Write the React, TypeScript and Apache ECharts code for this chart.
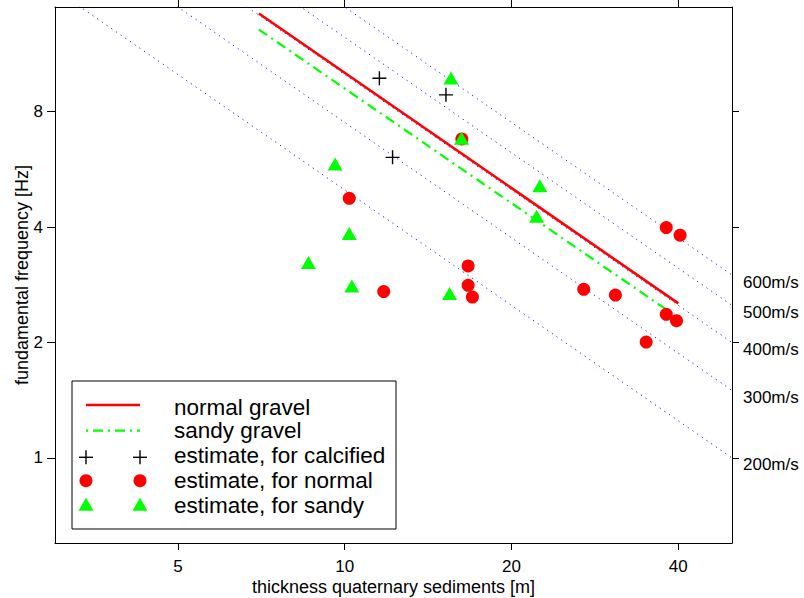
import React, { useEffect, useRef } from 'react';
import * as echarts from 'echarts';

// ---------- data ----------
const xTicks = [5, 10, 20, 40];
const yTicks = [1, 2, 4, 8];
const xRange = [3, 50];
const yRange = [0.6, 15];

// reference shear-wave velocities (m/s) for quarter-wavelength lines f = Vs / (4 h)
const velocities = [200, 300, 400, 500, 600];

// fitted relations [thickness m, frequency Hz]
const normalGravelH = [7, 40];
const normalGravelF = [14.43, 2.53];
const sandyGravelH = [7, 40];
const sandyGravelF = [13.1, 2.32];

// estimates
const calcifiedH = [11.55, 15.23, 12.2];
const calcifiedF = [9.78, 8.85, 6.08];
const normalH = [16.27, 10.19, 16.7, 11.76, 16.7, 17.0, 27.0, 30.8, 38.05, 40.3, 38.05, 39.7, 35.0];
const normalF = [6.79, 4.755, 3.167, 2.715, 2.82, 2.628, 2.753, 2.66, 3.99, 3.81, 2.369, 2.28, 2.005];
const sandyH = [15.55, 16.25, 9.61, 22.5, 22.2, 10.19, 8.6, 10.3, 15.46];
const sandyF = [9.8, 6.82, 5.84, 5.13, 4.27, 3.85, 3.233, 2.808, 2.683];

const legendLabels = [
  'normal gravel',
  'sandy gravel',
  'estimate, for calcified',
  'estimate, for normal',
  'estimate, for sandy',
];

const xTitle = 'thickness quaternary sediments [m]';
const yTitle = 'fundamental frequency [Hz]';

// ---------- styling ----------
const FONT = '"Liberation Sans", Arial, Helvetica, sans-serif';
const RED = '#ff0000';
const GREEN = '#00ff00';
const BLUE = '#0000ff';
const PLUS_PATH = 'path://M45,0H55V45H100V55H55V100H45V55H0V45H45Z';
const DASH_DOT = [10, 5, 2, 5];

const zip = (a: number[], b: number[]) => a.map((v, i) => [v, b[i]]);

export default function App() {
  const ref = useRef<HTMLDivElement>(null);

  useEffect(() => {
    if (!ref.current) return;
    const chart = echarts.init(ref.current, null, { renderer: 'svg' });

    const axisLine = { show: true, onZero: false, lineStyle: { color: '#000', width: 1 } };
    const tickStyle = { color: '#000', width: 1 };

    const velocitySeries = velocities.map((v) => ({
      type: 'line',
      name: `${v}m/s`,
      data: xRange.map((h) => [h, v / (4 * h)]),
      showSymbol: false,
      symbol: 'none',
      clip: true,
      silent: true,
      lineStyle: { color: BLUE, width: 1, type: [1.2, 4.5], opacity: 0.9 },
      z: 1,
    }));

    const option: any = {
      animation: false,
      textStyle: { fontFamily: FONT },
      grid: { left: 55, top: 7, right: 72, bottom: 55, containLabel: false, outerBoundsMode: 'none' },
      xAxis: [
        {
          type: 'log',
          logBase: 2,
          min: xRange[0],
          max: xRange[1],
          position: 'bottom',
          axisLine,
          splitLine: { show: false },
          minorTick: { show: false },
          axisTick: { show: true, inside: false, length: 7, customValues: xTicks, lineStyle: tickStyle },
          axisLabel: {
            customValues: xTicks,
            fontSize: 17,
            lineHeight: 14,
            color: '#000',
            margin: 16.5,
            fontFamily: FONT,
            formatter: (v: number) => String(Math.round(v)),
          },
          name: xTitle,
          nameLocation: 'middle',
          nameGap: 37,
          nameMoveOverlap: false,
          nameTextStyle: { fontSize: 18, lineHeight: 14, color: '#000', fontFamily: FONT },
        },
        {
          type: 'log',
          logBase: 2,
          min: xRange[0],
          max: xRange[1],
          position: 'top',
          axisLine,
          splitLine: { show: false },
          minorTick: { show: false },
          axisTick: { show: true, inside: false, length: 7, customValues: xTicks, lineStyle: tickStyle },
          axisLabel: { show: false },
        },
      ],
      yAxis: [
        {
          type: 'log',
          logBase: 2,
          min: yRange[0],
          max: yRange[1],
          position: 'left',
          axisLine,
          splitLine: { show: false },
          minorTick: { show: false },
          axisTick: { show: true, inside: false, length: 8, customValues: yTicks, lineStyle: tickStyle },
          axisLabel: {
            customValues: yTicks,
            fontSize: 17,
            color: '#000',
            margin: 12,
            fontFamily: FONT,
            formatter: (v: number) => String(Math.round(v)),
          },
          name: yTitle,
          nameLocation: 'middle',
          nameGap: 24,
          nameRotate: 90,
          nameMoveOverlap: false,
          nameTextStyle: { fontSize: 18, color: '#000', fontFamily: FONT },
        },
        {
          type: 'log',
          logBase: 2,
          min: yRange[0],
          max: yRange[1],
          position: 'right',
          axisLine,
          splitLine: { show: false },
          minorTick: { show: false },
          axisTick: { show: true, inside: false, length: 7, customValues: yTicks, lineStyle: tickStyle },
          axisLabel: { show: false },
        },
      ],
      series: [
        ...velocitySeries,
        {
          type: 'line',
          name: legendLabels[0],
          data: zip(normalGravelH, normalGravelF),
          showSymbol: false,
          symbol: 'none',
          lineStyle: { color: RED, width: 2.6 },
          z: 2,
        },
        {
          type: 'line',
          name: legendLabels[1],
          data: zip(sandyGravelH, sandyGravelF),
          showSymbol: false,
          symbol: 'none',
          lineStyle: { color: GREEN, width: 2.2, type: DASH_DOT },
          z: 2,
        },
        {
          type: 'scatter',
          name: legendLabels[2],
          data: zip(calcifiedH, calcifiedF),
          symbol: PLUS_PATH,
          symbolSize: 14,
          itemStyle: { color: '#000', opacity: 1 },
          z: 3,
        },
        {
          type: 'scatter',
          name: legendLabels[3],
          data: zip(normalH, normalF),
          symbol: 'circle',
          symbolSize: 13,
          itemStyle: { color: RED, opacity: 1 },
          z: 3,
        },
        {
          type: 'scatter',
          name: legendLabels[4],
          data: zip(sandyH, sandyF),
          symbol: 'triangle',
          symbolSize: [15, 13],
          itemStyle: { color: GREEN, opacity: 1 },
          z: 4,
        },
      ],
    };

    chart.setOption(option);

    // velocity labels placed next to the right end of each velocity line
    const velLabels = velocities.map((v) => {
      const h = xRange[1];
      const p = chart.convertToPixel({ gridIndex: 0 } as any, [h, v / (4 * h)]) as number[];
      return {
        type: 'text',
        x: p[0] + 11,
        y: p[1] + 7,
        z: 50,
        style: {
          text: `${v}m/s`,
          fontSize: 17,
          fontFamily: FONT,
          fill: '#000',
          align: 'left',
          verticalAlign: 'middle',
        },
      };
    });

    // MATLAB-style legend box
    const L = { left: 72, top: 381, right: 396, bottom: 529, x1: 86, x2: 140, tx: 174 };
    const markY = [405, 430.7, 457.3, 480.7, 504.3];
    const textY = [407, 430.7, 455.7, 480.5, 505];
    const legendEls: any[] = [
      {
        type: 'rect',
        z: 60,
        shape: { x: L.left, y: L.top, width: L.right - L.left, height: L.bottom - L.top },
        style: { fill: '#fff', stroke: '#000', lineWidth: 1 },
      },
      {
        type: 'line',
        z: 61,
        shape: { x1: L.x1, y1: markY[0], x2: L.x2, y2: markY[0] },
        style: { stroke: RED, lineWidth: 2.6 },
      },
      {
        type: 'line',
        z: 61,
        shape: { x1: L.x1, y1: markY[1], x2: L.x2, y2: markY[1] },
        style: { stroke: GREEN, lineWidth: 2.2, lineDash: [2, 5, 10, 5] },
      },
    ];
    [L.x1, L.x2].forEach((x) => {
      legendEls.push(
        { type: 'line', z: 61, shape: { x1: x - 7, y1: markY[2], x2: x + 7, y2: markY[2] }, style: { stroke: '#000', lineWidth: 1.4 } },
        { type: 'line', z: 61, shape: { x1: x, y1: markY[2] - 7, x2: x, y2: markY[2] + 7 }, style: { stroke: '#000', lineWidth: 1.4 } },
        { type: 'circle', z: 61, shape: { cx: x, cy: markY[3], r: 6.5 }, style: { fill: RED } },
        {
          type: 'polygon',
          z: 61,
          shape: { points: [[x - 7.5, markY[4] + 6.5], [x + 7.5, markY[4] + 6.5], [x, markY[4] - 6.5]] },
          style: { fill: GREEN },
        },
      );
    });
    legendLabels.forEach((t, i) => {
      legendEls.push({
        type: 'text',
        z: 62,
        x: L.tx,
        y: textY[i],
        style: { text: t, fontSize: 22.5, fontFamily: FONT, fill: '#000', align: 'left', verticalAlign: 'middle' },
      });
    });

    chart.setOption({ graphic: { elements: [...velLabels, ...legendEls] } });

    return () => chart.dispose();
  }, []);

  return <div ref={ref} style={{ position: 'fixed', left: 0, top: 0, width: 804, height: 598, background: '#fff' }} />;
}
